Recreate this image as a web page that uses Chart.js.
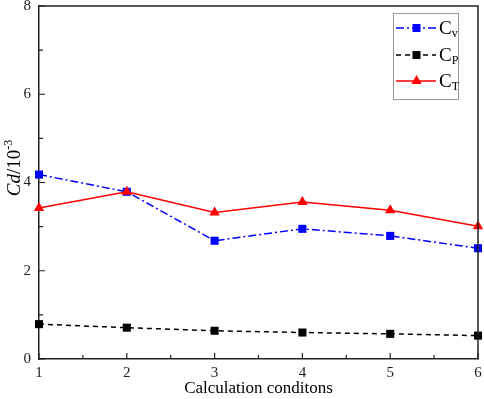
<!DOCTYPE html>
<html>
<head>
<meta charset="utf-8">
<script src="https://cdn.jsdelivr.net/npm/chart.js@4/dist/chart.umd.min.js"></script>
<style>
  html, body { margin: 0; padding: 0; background: #fff; }
  #wrap { width: 484px; height: 399px; }
</style>
</head>
<body>
<div id="wrap"><canvas id="myChart" width="484" height="399"></canvas></div>
<script>
    const conditions = [1, 2, 3, 4, 5, 6];
    const cvValues = [4.18, 3.79, 2.68, 2.95, 2.79, 2.51];
    const cpValues = [0.79, 0.71, 0.64, 0.60, 0.57, 0.53];
    const ctValues = [3.42, 3.79, 3.32, 3.56, 3.37, 3.01];
    const xTitle = "Calculation conditons";

    const serif = "'Liberation Serif', 'Times New Roman', serif";

    function toPoints(vals) {
      return conditions.map((c, i) => ({ x: c, y: vals[i] }));
    }

    // inside ticks, top/right frame, y title with superscript, legend with subscripts
    const decorPlugin = {
      id: "decor",
      afterDraw(chart) {
        const ctx = chart.ctx;
        const a = chart.chartArea;
        const xs = chart.scales.x, ys = chart.scales.y;
        ctx.save();
        ctx.strokeStyle = "#222";
        ctx.lineWidth = 1.5;
        ctx.beginPath();
        ctx.moveTo(a.left, a.top); ctx.lineTo(a.right, a.top); ctx.lineTo(a.right, a.bottom);
        ctx.stroke();

        ctx.lineWidth = 1.2;
        ctx.beginPath();
        for (let v = 1; v <= 6; v += 0.5) {
          const px = xs.getPixelForValue(v);
          const len = Number.isInteger(v) ? 6 : 4;
          ctx.moveTo(px, a.bottom); ctx.lineTo(px, a.bottom - len);
        }
        for (let v = 0; v <= 8; v += 1) {
          const py = ys.getPixelForValue(v);
          const len = v % 2 === 0 ? 6 : 4;
          ctx.moveTo(a.left, py); ctx.lineTo(a.left + len, py);
        }
        ctx.stroke();

        // y title
        ctx.translate(15, 168);
        ctx.rotate(-Math.PI / 2);
        ctx.fillStyle = "#000";
        ctx.textBaseline = "middle";
        const p1 = "Cd", p2 = "/10", p3 = "-3";
        ctx.font = "italic 19px " + serif;
        const w1 = ctx.measureText(p1).width;
        ctx.font = "19px " + serif;
        const w2 = ctx.measureText(p2).width;
        ctx.font = "12px " + serif;
        const w3 = ctx.measureText(p3).width;
        let sx = -(w1 + w2 + w3) / 2;
        ctx.font = "italic 19px " + serif;
        ctx.fillText(p1, sx, 0); sx += w1;
        ctx.font = "19px " + serif;
        ctx.fillText(p2, sx, 0); sx += w2;
        ctx.font = "12px " + serif;
        ctx.fillText(p3, sx, -6);
        ctx.setTransform(1, 0, 0, 1, 0, 0);

        // legend
        ctx.strokeStyle = "#999";
        ctx.lineWidth = 1;
        ctx.strokeRect(393.5, 13.5, 65, 86);
        const items = [
          { y: 28, color: "#0000ff", dash: [8, 3, 2, 3], marker: "rect", sub: "v" },
          { y: 55, color: "#000000", dash: [5, 4], marker: "rect", sub: "P" },
          { y: 81, color: "#ff0000", dash: [], marker: "tri", sub: "T" }
        ];
        items.forEach(it => {
          ctx.strokeStyle = it.color;
          ctx.lineWidth = 1.5;
          ctx.setLineDash(it.dash);
          ctx.beginPath();
          ctx.moveTo(396, it.y); ctx.lineTo(436, it.y);
          ctx.stroke();
          ctx.setLineDash([]);
          ctx.fillStyle = it.color;
          if (it.marker === "rect") {
            ctx.fillRect(412.5, it.y - 4, 8, 8);
          } else {
            ctx.beginPath();
            ctx.moveTo(416.5, it.y - 6);
            ctx.lineTo(421.7, it.y + 3);
            ctx.lineTo(411.3, it.y + 3);
            ctx.closePath();
            ctx.fill();
          }
          ctx.fillStyle = "#000";
          ctx.textBaseline = "alphabetic";
          ctx.font = "19px " + serif;
          ctx.fillText("C", 439, it.y + 6);
          const cw = ctx.measureText("C").width;
          ctx.font = "12px " + serif;
          ctx.fillText(it.sub, 439 + cw, it.y + 9);
        });
        ctx.restore();
      }
    };

    function initChart() {
      const ctx = document.getElementById("myChart").getContext("2d");
      new Chart(ctx, {
        type: "line",
        data: {
          datasets: [
            {
              label: "Cv",
              data: toPoints(cvValues),
              borderColor: "#0000ff",
              backgroundColor: "#0000ff",
              borderWidth: 1.5,
              borderDash: [8, 3, 2, 3],
              pointStyle: "rect",
              pointRadius: 5.7,
              pointBorderWidth: 0,
              order: 2
            },
            {
              label: "CP",
              data: toPoints(cpValues),
              borderColor: "#000000",
              backgroundColor: "#000000",
              borderWidth: 1.5,
              borderDash: [5, 4],
              pointStyle: "rect",
              pointRadius: 5.7,
              pointBorderWidth: 0,
              order: 2
            },
            {
              label: "CT",
              data: toPoints(ctValues),
              borderColor: "#ff0000",
              backgroundColor: "#ff0000",
              borderWidth: 1.5,
              pointStyle: "triangle",
              pointRadius: 6,
              pointBorderWidth: 0,
              order: 1
            }
          ]
        },
        options: {
          responsive: false,
          animation: false,
          clip: false,
          layout: { padding: { top: 6, right: 6, left: 0, bottom: 0 } },
          plugins: { legend: { display: false }, tooltip: { enabled: false } },
          scales: {
            x: {
              type: "linear",
              min: 1, max: 6,
              afterFit: s => { s.height = 40; s.paddingLeft = 0; s.paddingRight = 0; },
              grid: { display: false, drawTicks: false },
              border: { display: true, color: "#222", width: 1.5 },
              ticks: {
                stepSize: 1, padding: 5, color: "#222",
                font: { family: serif, size: 15 },
                maxRotation: 0
              },
              title: {
                display: true, text: xTitle, color: "#000",
                font: { family: serif, size: 17 }, padding: { top: 0, bottom: 0 }
              }
            },
            y: {
              min: 0, max: 8,
              afterFit: s => { s.width = 39; s.paddingTop = 0; s.paddingBottom = 0; },
              grid: { display: false, drawTicks: false },
              border: { display: true, color: "#222", width: 1.5 },
              ticks: {
                stepSize: 2, padding: 8, color: "#222",
                font: { family: serif, size: 15 }
              }
            }
          }
        },
        plugins: [decorPlugin]
      });
    }

    initChart();
</script>
</body>
</html>
